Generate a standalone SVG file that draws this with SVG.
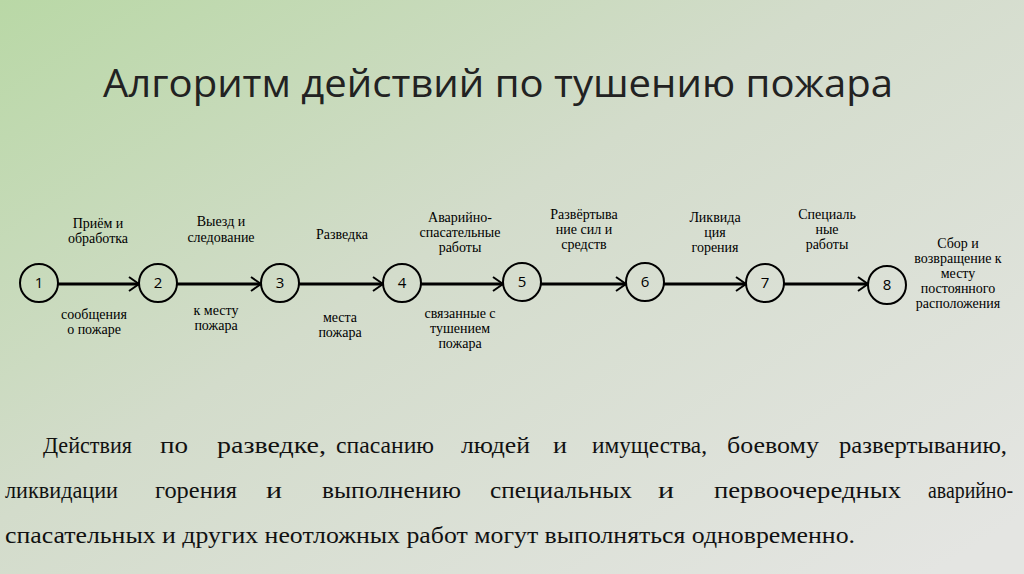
<svg xmlns="http://www.w3.org/2000/svg" width="1024" height="574" viewBox="0 0 1024 574">
<defs>
<linearGradient id="bg" x1="0" y1="0" x2="1" y2="0.9">
<stop offset="0" stop-color="#b9d8a6"/>
<stop offset="0.45" stop-color="#d3dccb"/>
<stop offset="1" stop-color="#e4e5e2"/>
</linearGradient>
<marker id="ar" viewBox="0 0 12 16" refX="11" refY="8" markerWidth="12" markerHeight="16" markerUnits="userSpaceOnUse" orient="auto">
<path d="M1,1 L11,8 L1,15" fill="none" stroke="#000" stroke-width="2"/>
</marker>
<style>
.n circle{fill:none;stroke:#000;stroke-width:2}
.num{font-family:"Open Sans","Liberation Sans",sans-serif;font-size:15px;text-anchor:middle}
.lb{font-family:"Liberation Serif",serif;font-size:14px;text-anchor:middle}
.c line{stroke:#000;stroke-width:3}
.p{font-family:"Liberation Serif",serif;font-size:24px;fill:#111}
</style>
</defs>
<rect width="1024" height="574" fill="url(#bg)"/>
<text x="498" y="97" font-family="Open Sans,Liberation Sans,sans-serif" font-size="39" text-anchor="middle" fill="#222" textLength="790" lengthAdjust="spacingAndGlyphs">Алгоритм действий по тушению пожара</text>
<g class="c">
<line x1="58" y1="284" x2="139" y2="284" marker-end="url(#ar)"/>
<line x1="177" y1="284" x2="261" y2="284" marker-end="url(#ar)"/>
<line x1="299" y1="284" x2="383" y2="284" marker-end="url(#ar)"/>
<line x1="421" y1="284" x2="503" y2="284" marker-end="url(#ar)"/>
<line x1="541" y1="284" x2="626" y2="284" marker-end="url(#ar)"/>
<line x1="664" y1="284" x2="746" y2="284" marker-end="url(#ar)"/>
<line x1="784" y1="284" x2="868" y2="284" marker-end="url(#ar)"/>
</g>
<g id="n1" class="n"><circle cx="39" cy="283" r="19"/><text class="num" x="39" y="288">1</text></g>
<g id="n2" class="n"><circle cx="158" cy="283" r="19"/><text class="num" x="158" y="288">2</text></g>
<g id="n3" class="n"><circle cx="280" cy="283" r="19"/><text class="num" x="280" y="288">3</text></g>
<g id="n4" class="n"><circle cx="402" cy="283" r="19"/><text class="num" x="402" y="288">4</text></g>
<g id="n5" class="n"><circle cx="522" cy="282" r="19"/><text class="num" x="522" y="287">5</text></g>
<g id="n6" class="n"><circle cx="645" cy="282" r="19"/><text class="num" x="645" y="287">6</text></g>
<g id="n7" class="n"><circle cx="765" cy="283" r="19"/><text class="num" x="765" y="288">7</text></g>
<g id="n8" class="n"><circle cx="887" cy="285" r="19"/><text class="num" x="887" y="290">8</text></g>
<g id="labels">
<text class="lb" x="98" y="228">Приём и</text><text class="lb" x="98" y="243">обработка</text>
<text class="lb" x="94" y="319">сообщения</text><text class="lb" x="94" y="334">о пожаре</text>
<text class="lb" x="221" y="226">Выезд и</text><text class="lb" x="221" y="242">следование</text>
<text class="lb" x="216" y="315">к месту</text><text class="lb" x="216" y="330">пожара</text>
<text class="lb" x="342" y="239">Разведка</text>
<text class="lb" x="340" y="322">места</text><text class="lb" x="340" y="337">пожара</text>
<text class="lb" x="460" y="222">Аварийно-</text><text class="lb" x="460" y="237">спасательные</text><text class="lb" x="460" y="252">работы</text>
<text class="lb" x="460" y="318">связанные с</text><text class="lb" x="460" y="333">тушением</text><text class="lb" x="460" y="348">пожара</text>
<text class="lb" x="584" y="219">Развёртыва</text><text class="lb" x="584" y="234">ние сил и</text><text class="lb" x="584" y="249">средств</text>
<text class="lb" x="715" y="222">Ликвида</text><text class="lb" x="715" y="237">ция</text><text class="lb" x="715" y="252">горения</text>
<text class="lb" x="827" y="219">Специаль</text><text class="lb" x="827" y="234">ные</text><text class="lb" x="827" y="249">работы</text>
<text class="lb" x="958" y="248">Сбор и</text><text class="lb" x="958" y="263">возвращение к</text><text class="lb" x="958" y="278">месту</text><text class="lb" x="958" y="293">постоянного</text><text class="lb" x="958" y="308">расположения</text>
</g>
<g id="para" class="p">
<text x="43" y="453" textLength="89" lengthAdjust="spacingAndGlyphs">Действия</text>
<text x="160" y="453" textLength="28" lengthAdjust="spacingAndGlyphs">по</text>
<text x="217" y="453" textLength="109" lengthAdjust="spacingAndGlyphs">разведке,</text>
<text x="336" y="453" textLength="98" lengthAdjust="spacingAndGlyphs">спасанию</text>
<text x="461" y="453" textLength="69" lengthAdjust="spacingAndGlyphs">людей</text>
<text x="553" y="453" textLength="14" lengthAdjust="spacingAndGlyphs">и</text>
<text x="592" y="453" textLength="115" lengthAdjust="spacingAndGlyphs">имущества,</text>
<text x="727" y="453" textLength="92" lengthAdjust="spacingAndGlyphs">боевому</text>
<text x="839" y="453" textLength="168" lengthAdjust="spacingAndGlyphs">развертыванию,</text>
<text x="5" y="498" textLength="113" lengthAdjust="spacingAndGlyphs">ликвидации</text>
<text x="155" y="498" textLength="82" lengthAdjust="spacingAndGlyphs">горения</text>
<text x="266" y="498" textLength="16" lengthAdjust="spacingAndGlyphs">и</text>
<text x="322" y="498" textLength="139" lengthAdjust="spacingAndGlyphs">выполнению</text>
<text x="490" y="498" textLength="142" lengthAdjust="spacingAndGlyphs">специальных</text>
<text x="658" y="498" textLength="16" lengthAdjust="spacingAndGlyphs">и</text>
<text x="714" y="498" textLength="187" lengthAdjust="spacingAndGlyphs">первоочередных</text>
<text x="928" y="498" textLength="85" lengthAdjust="spacingAndGlyphs">аварийно-</text>
<text x="5" y="543" textLength="850" lengthAdjust="spacingAndGlyphs">спасательных и других неотложных работ могут выполняться одновременно.</text>
</g>
</svg>
